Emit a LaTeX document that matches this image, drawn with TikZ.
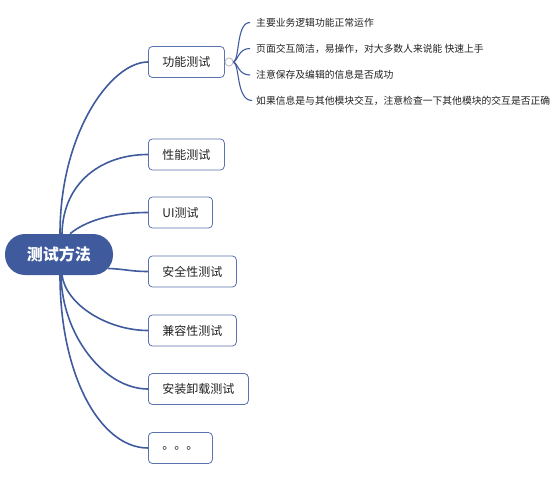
\documentclass[tikz,border=0pt]{standalone}
\usepackage{fontspec}
\setmainfont{Noto Sans CJK SC}
\usetikzlibrary{calc}
\definecolor{mblue}{HTML}{3F5B9E}
\definecolor{bborder}{HTML}{5A72AE}
\definecolor{ttext}{HTML}{222222}
\begin{document}
\begin{tikzpicture}[x=1pt,y=-1pt,
  rootbox/.style={fill=mblue,draw=none,rounded corners=20pt,minimum width=108pt,minimum height=41pt,inner sep=0pt,text=white,font=\fontsize{16}{16}\selectfont\bfseries},
  topicbox/.style={draw=bborder,line width=0.8pt,rounded corners=4pt,fill=white,minimum height=31pt,inner xsep=14pt,inner ysep=0pt,anchor=west,text=ttext,font=\fontsize{12}{12}\selectfont},
  subtext/.style={anchor=west,inner sep=0pt,text=ttext,font=\fontsize{9.8}{9.8}\selectfont},
  conn/.style={draw=mblue,line width=1.6pt},
  subconn/.style={draw=mblue,line width=1.1pt},
  knob/.style={circle,draw=gray!60,fill=white,line width=0.6pt,minimum size=8pt,inner sep=0pt}]
\useasboundingbox (0,0) rectangle (554,489);
\node[rootbox] (root) at (59,254.5) {测试方法};
\node[topicbox] (t1) at (148,62) {功能测试};
\node[topicbox] (t2) at (148,154.5) {性能测试};
\node[topicbox] (t3) at (148,212.5) {UI测试};
\node[topicbox] (t4) at (148,271.5) {安全性测试};
\node[topicbox] (t5) at (148,330.5) {兼容性测试};
\node[topicbox] (t6) at (148,389) {安装卸载测试};
\node[topicbox] (t7) at (148,448) {。。。};
% connectors from root
\draw[conn] ([xshift=1pt]root.north) .. controls (60,133) and (111,62) .. (t1.west);
\draw[conn] ([xshift=3pt]root.north) .. controls (63,182) and (102,154.5) .. (t2.west);
\draw[conn] ([xshift=11pt]root.north) .. controls (84,222) and (110,212.5) .. (t3.west);
\draw[conn] ($(root.east)+(-5,14)$) .. controls (125,269) and (130,271.5) .. (t4.west);
\draw[conn] ([xshift=3pt]root.south) .. controls (66,305) and (108,330.5) .. (t5.west);
\draw[conn] ([xshift=2pt]root.south) .. controls (62,335) and (104,389) .. (t6.west);
\draw[conn] ([xshift=1pt]root.south) .. controls (60,375) and (100,448) .. (t7.west);
% sub-branches
\node[knob] (k) at (229,62) {};
\node[subtext] (s1) at (256,22.5) {主要业务逻辑功能正常运作};
\node[subtext] (s2) at (256,48.5) {页面交互简洁，易操作，对大多数人来说能 快速上手};
\node[subtext] (s3) at (256,75) {注意保存及编辑的信息是否成功};
\node[subtext] (s4) at (256,100.5) {如果信息是与其他模块交互，注意检查一下其他模块的交互是否正确};
\coordinate (e1) at (250,22.5);
\coordinate (e2) at (250,48.5);
\coordinate (e3) at (250,75);
\coordinate (e4) at (252,100.5);
\draw[subconn] (k.east) .. controls (240,60) and (236,22.5) .. (e1);
\draw[subconn] (k.east) .. controls (238,61) and (238,48.5) .. (e2);
\draw[subconn] (k.east) .. controls (238,63) and (238,75) .. (e3);
\draw[subconn] (k.east) .. controls (240,64) and (236,100.5) .. (e4);
\node[knob] at (229,62) {};
\end{tikzpicture}
\end{document}
